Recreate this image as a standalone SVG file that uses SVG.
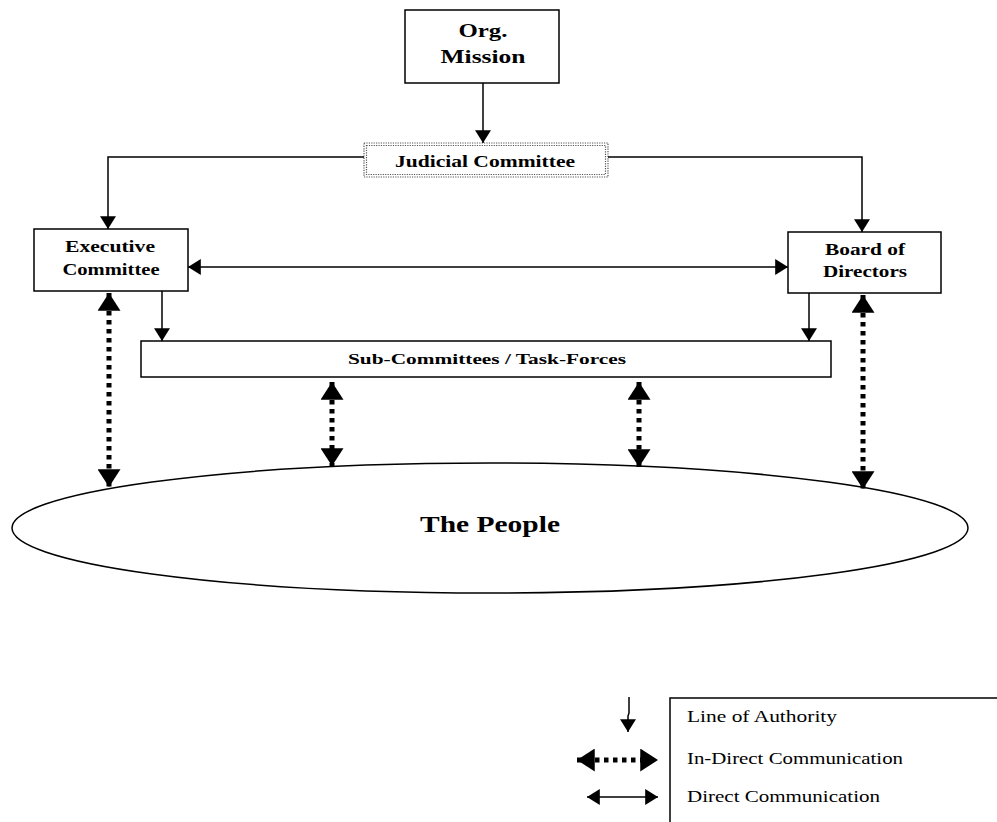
<svg xmlns="http://www.w3.org/2000/svg" width="997" height="822" viewBox="0 0 997 822">
<defs>
<style>
.box{fill:#fff;stroke:#000;stroke-width:1.5}
.lbl{font-family:"Liberation Serif","Times New Roman",serif;font-weight:bold;fill:#000;text-anchor:middle}
.leg{font-family:"Liberation Serif","Times New Roman",serif;fill:#000;font-size:16px}
.ln{fill:none;stroke:#000;stroke-width:1.5}
.dot{fill:none;stroke:#000;stroke-width:5;stroke-dasharray:4.5 4.5}
</style>
<marker id="sa" markerUnits="userSpaceOnUse" markerWidth="14" markerHeight="16" refX="12" refY="7.5" orient="auto-start-reverse" viewBox="0 0 12 15">
<path d="M0,0 L12,7.5 L0,15 z" fill="#000"/>
</marker>
<marker id="ba" markerUnits="userSpaceOnUse" markerWidth="18" markerHeight="23" refX="17" refY="11" orient="auto-start-reverse" viewBox="0 0 17 22">
<path d="M0,0 L17,11 L0,22 z" fill="#000"/>
</marker>
</defs>
<rect width="997" height="822" fill="#fff"/>

<g id="people">
<ellipse cx="490" cy="528" rx="478" ry="65" class="box"/>
<text class="lbl" x="490" y="532" font-size="23" textLength="140" lengthAdjust="spacingAndGlyphs">The People</text>
</g>

<g id="mission">
<rect class="box" x="405" y="10" width="154" height="73"/>
<text class="lbl" x="483" y="37" font-size="19" textLength="49" lengthAdjust="spacingAndGlyphs">Org.</text>
<text class="lbl" x="483" y="63" font-size="19" textLength="85" lengthAdjust="spacingAndGlyphs">Mission</text>
</g>

<g id="judicial">
<rect x="364" y="143" width="244" height="34" fill="#fff" stroke="#555" stroke-width="1.2" stroke-dasharray="1.2 1.2"/>
<rect x="366.5" y="145.5" width="239" height="29" fill="none" stroke="#555" stroke-width="1.2" stroke-dasharray="1.2 1.2"/>
<text class="lbl" x="485" y="167" font-size="17" textLength="180" lengthAdjust="spacingAndGlyphs">Judicial Committee</text>
</g>

<g id="executive">
<rect class="box" x="34" y="229" width="154" height="62"/>
<text class="lbl" x="110" y="252" font-size="16" textLength="90" lengthAdjust="spacingAndGlyphs">Executive</text>
<text class="lbl" x="111" y="275" font-size="16" textLength="97" lengthAdjust="spacingAndGlyphs">Committee</text>
</g>

<g id="board">
<rect class="box" x="788" y="232" width="153" height="61"/>
<text class="lbl" x="865" y="255" font-size="16" textLength="80" lengthAdjust="spacingAndGlyphs">Board of</text>
<text class="lbl" x="865" y="277" font-size="16" textLength="84" lengthAdjust="spacingAndGlyphs">Directors</text>
</g>

<g id="subcommittees">
<rect class="box" x="141" y="341" width="690" height="36"/>
<text class="lbl" x="487" y="364" font-size="15" textLength="278" lengthAdjust="spacingAndGlyphs">Sub-Committees / Task-Forces</text>
</g>

<g id="connectors">
<line class="ln" x1="483" y1="83" x2="483" y2="143" marker-end="url(#sa)"/>
<polyline class="ln" points="364,157 108,157 108,229" marker-end="url(#sa)"/>
<polyline class="ln" points="608,157 862,157 862,232" marker-end="url(#sa)"/>
<line class="ln" x1="188" y1="267" x2="788" y2="267" marker-start="url(#sa)" marker-end="url(#sa)"/>
<line class="ln" x1="162" y1="291" x2="162" y2="341" marker-end="url(#sa)"/>
<line class="ln" x1="809" y1="293" x2="809" y2="341" marker-end="url(#sa)"/>
<line class="dot" x1="109" y1="293" x2="109" y2="487" marker-start="url(#ba)" marker-end="url(#ba)"/>
<line class="dot" x1="332" y1="382" x2="332" y2="466" marker-start="url(#ba)" marker-end="url(#ba)"/>
<line class="dot" x1="639" y1="382" x2="639" y2="467" marker-start="url(#ba)" marker-end="url(#ba)"/>
<line class="dot" x1="863" y1="295" x2="863" y2="489" marker-start="url(#ba)" marker-end="url(#ba)"/>
</g>

<g id="legend">
<path class="box" d="M670,822 L670,698 L997,698"/>
<polyline class="ln" points="629,697 629,713 628,716 628,732" marker-end="url(#sa)"/>
<line x1="577" y1="760" x2="658" y2="760" stroke="#000" stroke-width="5" stroke-dasharray="4.5 4.5" marker-start="url(#ba)" marker-end="url(#ba)"/>
<line class="ln" x1="587" y1="797" x2="658" y2="797" marker-start="url(#sa)" marker-end="url(#sa)"/>
<text class="leg" x="687" y="722" textLength="150" lengthAdjust="spacingAndGlyphs">Line of Authority</text>
<text class="leg" x="687" y="764" textLength="216" lengthAdjust="spacingAndGlyphs">In-Direct Communication</text>
<text class="leg" x="687" y="802" textLength="193" lengthAdjust="spacingAndGlyphs">Direct Communication</text>
</g>
</svg>
